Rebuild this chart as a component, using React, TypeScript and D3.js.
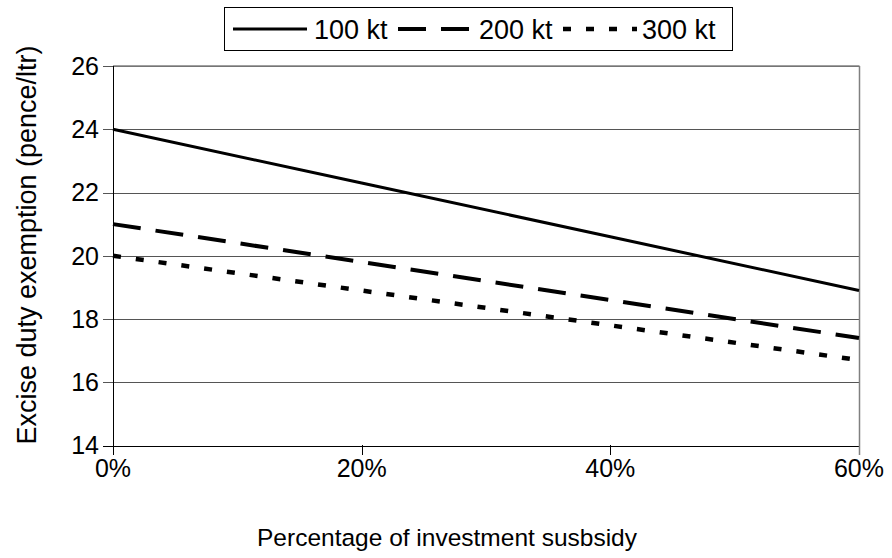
import React from "react";
import * as d3 from "d3";

const xValues = [0, 0.2, 0.4, 0.6];
const series100 = [24, 22.3, 20.6, 18.9];
const series200 = [21, 19.8, 18.6, 17.4];
const series300 = [20, 18.9, 17.8, 16.7];
const seriesNames = ["100 kt", "200 kt", "300 kt"];
const yTicks = [14, 16, 18, 20, 22, 24, 26];
const xTicks = [0, 0.2, 0.4, 0.6];

const W = 892;
const H = 558;
const FONT = "Liberation Sans, Arial, sans-serif";

export default function App() {
  const x = d3.scaleLinear().domain([0, 0.6]).range([113, 859]);
  const y = d3.scaleLinear().domain([14, 26]).range([445.5, 66]);
  const line = d3
    .line<number>()
    .x((_, i) => x(xValues[i]))
    .y((d) => y(d));

  const allSeries = [series100, series200, series300];
  const dashes = ["none", "28,15", "8,15"];
  const widths = [3, 4, 4.5];

  const legendItems = [
    { lx: 233, tx: 314 },
    { lx: 398, tx: 479 },
    { lx: 563, tx: 642 },
  ];

  return (
    <svg
      width={W}
      height={H}
      style={{ position: "absolute", left: 0, top: 0 }}
      fontFamily={FONT}
    >
      <rect x={0} y={0} width={W} height={H} fill="#fff" />
      {/* gridlines */}
      {yTicks.map((t) => (
        <line
          key={"g" + t}
          x1={103}
          x2={859}
          y1={Math.round(y(t)) + 0.5}
          y2={Math.round(y(t)) + 0.5}
          stroke={t === 14 ? "#000" : "#555"}
          strokeWidth={1}
        />
      ))}
      {/* top and right border */}
      <line x1={113} x2={859.5} y1={66} y2={66} stroke="#808080" strokeWidth={1.5} />
      <line x1={859.5} x2={859.5} y1={66} y2={455} stroke="#808080" strokeWidth={1.5} />
      {/* left axis */}
      <line x1={113.5} x2={113.5} y1={66} y2={455} stroke="#000" strokeWidth={1} />
      {/* x ticks */}
      {xTicks.map((t) => (
        <line
          key={"xt" + t}
          x1={Math.round(x(t)) + 0.5}
          x2={Math.round(x(t)) + 0.5}
          y1={445}
          y2={455}
          stroke={t === 0.6 ? "#808080" : "#000"}
          strokeWidth={1}
        />
      ))}
      {/* y tick labels */}
      {yTicks.map((t) => (
        <text
          key={"yl" + t}
          x={99}
          y={y(t)}
          dy="0.35em"
          textAnchor="end"
          fontSize={25}
          fill="#000"
        >
          {t}
        </text>
      ))}
      {/* x tick labels */}
      {xTicks.map((t) => (
        <text
          key={"xl" + t}
          x={x(t)}
          y={477}
          textAnchor="middle"
          fontSize={25}
          fill="#000"
        >
          {d3.format(".0%")(t)}
        </text>
      ))}
      {/* axis titles */}
      <text x={447} y={546} textAnchor="middle" fontSize={24.5} fill="#000">
        Percentage of investment susbsidy
      </text>
      <text
        transform={`translate(36,245) rotate(-90)`}
        textAnchor="middle"
        fontSize={27}
        fill="#000"
      >
        Excise duty exemption (pence/ltr)
      </text>
      {/* series */}
      {allSeries.map((s, i) => (
        <path
          key={"s" + i}
          d={line(s) || ""}
          fill="none"
          stroke="#000"
          strokeWidth={widths[i]}
          strokeDasharray={dashes[i]}
        />
      ))}
      {/* legend */}
      <rect x={224.5} y={7.5} width={508} height={43} fill="#fff" stroke="#000" strokeWidth={1} />
      {seriesNames.map((n, i) => (
        <g key={"lg" + i}>
          <line
            x1={legendItems[i].lx}
            x2={legendItems[i].lx + 74}
            y1={29}
            y2={29}
            stroke="#000"
            strokeWidth={widths[i]}
            strokeDasharray={dashes[i]}
          />
          <text x={legendItems[i].tx} y={39} fontSize={27} fill="#000">
            {n}
          </text>
        </g>
      ))}
    </svg>
  );
}
